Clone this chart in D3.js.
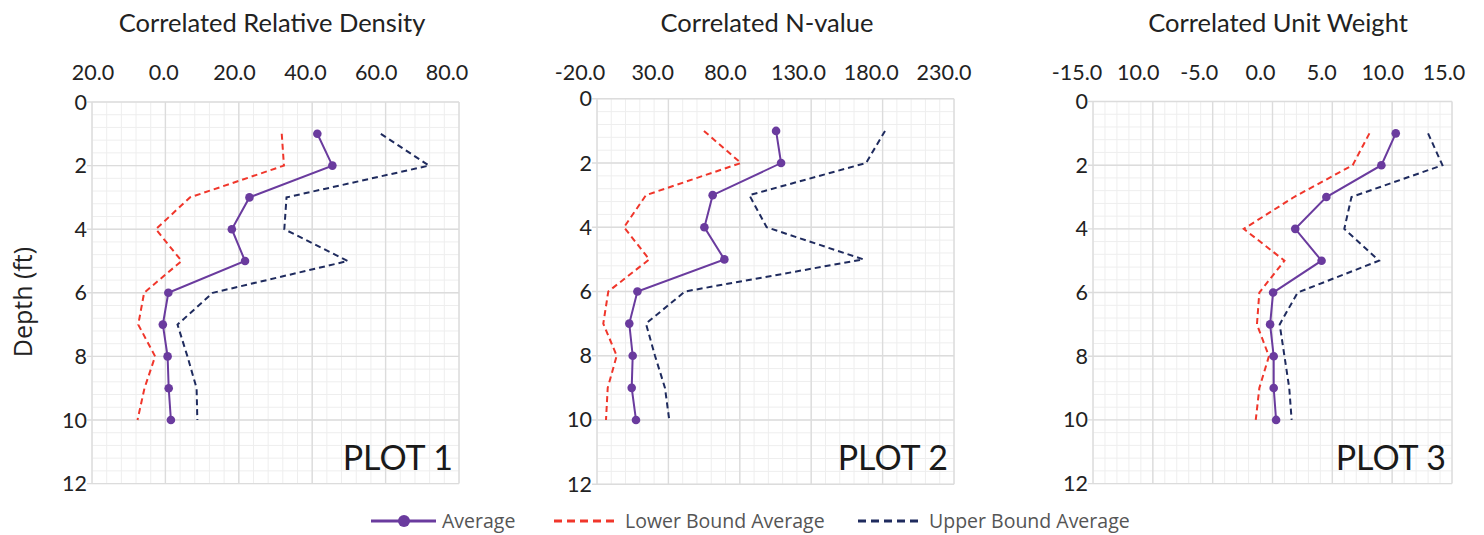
<!DOCTYPE html>
<html>
<head>
<meta charset="utf-8">
<script src="https://cdn.jsdelivr.net/npm/d3@7"></script>
<style>
	body { margin: 0; background: #ffffff; }
	svg { display: block; }
	.text_class_title { font-family: Lato, "Open Sans", sans-serif; font-size: 25.5px; fill: #222222; }
	.text_class_tick { font-family: Lato, "Open Sans", sans-serif; font-size: 21.5px; fill: #222222; }
	.text_class_plot { font-family: Lato, "Open Sans", sans-serif; font-size: 34px; fill: #1a1a1a; }
	.text_class_legend { font-family: "Open Sans", Lato, sans-serif; font-size: 19.5px; fill: #555555; }
	.text_class_axis { font-family: "Open Sans", Lato, sans-serif; font-size: 25px; fill: #222222; }
</style>
</head>
<body>
<div id="div_id_main"></div>
<script>

// ---------------------------------------------------------------
// data

var vDepth = [1, 2, 3, 4, 5, 6, 7, 8, 9, 10];
var vDepthTicks = [0, 2, 4, 6, 8, 10, 12];

var vRelDensity_Avg   = [41.4, 45.5, 22.9, 18.1, 21.7, 0.8, -0.7, 0.6, 0.9, 1.5];
var vRelDensity_Lower = [31.7, 32.3, 6.7, -2.6, 4.4, -5.8, -7.4, -2.8, -5.7, -7.6];
var vRelDensity_Upper = [58.7, 71.8, 33.0, 32.4, 49.7, 12.9, 3.3, 6.0, 8.5, 8.7];

var vNValue_Avg   = [105.4, 108.9, 61.0, 55.2, 69.2, 8.3, 2.6, 5.0, 4.3, 7.3];
var vNValue_Lower = [54.9, 80.8, 14.3, -1.1, 16.6, -12.1, -15.6, -6.2, -12.5, -13.7];
var vNValue_Upper = [181.7, 168.4, 86.7, 98.8, 166.5, 41.6, 14.3, 20.6, 27.6, 30.6];

var vUnitWeight_Avg   = [10.3, 9.1, 4.5, 1.9, 4.1, 0.05, -0.2, 0.1, 0.1, 0.3];
var vUnitWeight_Lower = [8.1, 6.7, 1.8, -2.4, 1.0, -1.1, -1.3, -0.3, -1.1, -1.4];
var vUnitWeight_Upper = [13.0, 14.2, 6.6, 6.0, 8.9, 2.1, 0.6, 1.0, 1.4, 1.6];

var vRelDensity_Ticks = [-20, 0, 20, 40, 60, 80];
var vRelDensity_TickLabels = ["20.0", "0.0", "20.0", "40.0", "60.0", "80.0"];

var vNValue_Ticks = [-20, 30, 80, 130, 180, 230];
var vNValue_TickLabels = ["-20.0", "30.0", "80.0", "130.0", "180.0", "230.0"];

var vUnitWeight_Ticks = [-15, -10, -5, 0, 5, 10, 15];
var vUnitWeight_TickLabels = ["-15.0", "10.0", "-5.0", "0.0", "5.0", "10.0", "15.0"];

var vSeriesNames = ["Average", "Lower Bound Average", "Upper Bound Average"];

// ---------------------------------------------------------------
// layout

var WIDTH = 1484;
var HEIGHT = 535;

var COLOR_AVG = "#6a3b9e";
var COLOR_LOWER = "#f0362b";
var COLOR_UPPER = "#1f2b5e";
var COLOR_GRID_MAJOR = "#dcdcdc";
var COLOR_GRID_MINOR = "#eeeeee";

var vPanels = [
	{ title: "Correlated Relative Density", plot: "PLOT 1", title_x: 272,
	  left: 92, right: 459, top: 102, bottom: 483.6, label_left: 93, label_right: 447,
	  ticks: vRelDensity_Ticks, tick_labels: vRelDensity_TickLabels,
	  avg: vRelDensity_Avg, lower: vRelDensity_Lower, upper: vRelDensity_Upper },
	{ title: "Correlated N-value", plot: "PLOT 2", title_x: 767,
	  left: 597, right: 954, top: 98.8, bottom: 484.2, label_left: 580, label_right: 944,
	  ticks: vNValue_Ticks, tick_labels: vNValue_TickLabels,
	  avg: vNValue_Avg, lower: vNValue_Lower, upper: vNValue_Upper },
	{ title: "Correlated Unit Weight", plot: "PLOT 3", title_x: 1278,
	  left: 1093, right: 1452, top: 101.5, bottom: 483.6, label_left: 1077, label_right: 1444,
	  ticks: vUnitWeight_Ticks, tick_labels: vUnitWeight_TickLabels,
	  avg: vUnitWeight_Avg, lower: vUnitWeight_Lower, upper: vUnitWeight_Upper }
];

// ---------------------------------------------------------------

function funcDraw_Main() {

	let svgMain = d3.select("#div_id_main")
					.append("svg")
						.attr("id", "svg_id_main")
						.attr("width", WIDTH)
						.attr("height", HEIGHT);

	for (let nPanel = 0; nPanel < vPanels.length; nPanel++) {

		funcDraw_Panel(svgMain, vPanels[nPanel]);
	}

	svgMain.append("text")
				.attr("class", "text_class_axis")
				.attr("text-anchor", "middle")
				.attr("transform", "translate(32,302) rotate(-90)")
				.text("Depth (ft)");

	funcDraw_Legend(svgMain);
}

function funcDraw_Panel(svgMain, panel) {

	let fScale_X = d3.scaleLinear()
						.domain([panel.ticks[0], panel.ticks[panel.ticks.length - 1]])
						.range([panel.left, panel.right]);

	let fScale_Label = d3.scaleLinear()
						.domain(fScale_X.domain())
						.range([panel.label_left, panel.label_right]);

	let fScale_Y = d3.scaleLinear()
						.domain([0, 12])
						.range([panel.top, panel.bottom]);

	let gPanel = svgMain.append("g");

	// ---- minor grid

	let nStepX = panel.ticks[1] - panel.ticks[0];
	let vMinorX = d3.range(panel.ticks[0], panel.ticks[panel.ticks.length - 1] + 1e-6, nStepX / 5);
	let vMinorY = d3.range(0, 12 + 1e-6, 0.4);

	gPanel.selectAll("line.line_class_minor_x")
			.data(vMinorX)
			.enter()
			.append("line")
				.attr("class", "line_class_minor_x")
				.attr("x1", d => fScale_X(d)).attr("x2", d => fScale_X(d))
				.attr("y1", panel.top).attr("y2", panel.bottom)
				.attr("stroke", COLOR_GRID_MINOR)
				.attr("stroke-width", 1);

	gPanel.selectAll("line.line_class_minor_y")
			.data(vMinorY)
			.enter()
			.append("line")
				.attr("class", "line_class_minor_y")
				.attr("x1", panel.left).attr("x2", panel.right)
				.attr("y1", d => fScale_Y(d)).attr("y2", d => fScale_Y(d))
				.attr("stroke", COLOR_GRID_MINOR)
				.attr("stroke-width", 1);

	// ---- major grid

	gPanel.selectAll("line.line_class_major_x")
			.data(panel.ticks)
			.enter()
			.append("line")
				.attr("class", "line_class_major_x")
				.attr("x1", d => fScale_X(d)).attr("x2", d => fScale_X(d))
				.attr("y1", panel.top).attr("y2", panel.bottom)
				.attr("stroke", COLOR_GRID_MAJOR)
				.attr("stroke-width", 1.4);

	gPanel.selectAll("line.line_class_major_y")
			.data(vDepthTicks)
			.enter()
			.append("line")
				.attr("class", "line_class_major_y")
				.attr("x1", panel.left - 5).attr("x2", panel.right)
				.attr("y1", d => fScale_Y(d)).attr("y2", d => fScale_Y(d))
				.attr("stroke", COLOR_GRID_MAJOR)
				.attr("stroke-width", 1.4);

	// ---- tick labels

	gPanel.selectAll("text.text_class_tick_x")
			.data(panel.ticks)
			.enter()
			.append("text")
				.attr("class", "text_class_tick text_class_tick_x")
				.attr("text-anchor", "middle")
				.attr("x", d => fScale_Label(d))
				.attr("y", 80)
				.text((d, i) => panel.tick_labels[i]);

	gPanel.selectAll("text.text_class_tick_y")
			.data(vDepthTicks)
			.enter()
			.append("text")
				.attr("class", "text_class_tick text_class_tick_y")
				.attr("text-anchor", "end")
				.attr("x", panel.left - 5)
				.attr("y", d => fScale_Y(d) + 7.5)
				.text(d => d);

	// ---- title and plot name

	gPanel.append("text")
			.attr("class", "text_class_title")
			.attr("text-anchor", "middle")
			.attr("x", panel.title_x)
			.attr("y", 32)
			.text(panel.title);

	gPanel.append("text")
			.attr("class", "text_class_plot")
			.attr("text-anchor", "end")
			.attr("x", panel.right - 6)
			.attr("y", 470)
			.text(panel.plot);

	// ---- series

	let fLine = d3.line()
					.x(d => fScale_X(d[0]))
					.y(d => fScale_Y(d[1]));

	let dsLower = panel.lower.map((v, i) => [v, vDepth[i]]);
	let dsUpper = panel.upper.map((v, i) => [v, vDepth[i]]);
	let dsAvg = panel.avg.map((v, i) => [v, vDepth[i]]);

	gPanel.append("path")
			.attr("d", fLine(dsLower))
			.attr("fill", "none")
			.attr("stroke", COLOR_LOWER)
			.attr("stroke-width", 2)
			.attr("stroke-dasharray", "6,4");

	gPanel.append("path")
			.attr("d", fLine(dsUpper))
			.attr("fill", "none")
			.attr("stroke", COLOR_UPPER)
			.attr("stroke-width", 2)
			.attr("stroke-dasharray", "6,4");

	gPanel.append("path")
			.attr("d", fLine(dsAvg))
			.attr("fill", "none")
			.attr("stroke", COLOR_AVG)
			.attr("stroke-width", 2);

	gPanel.selectAll("circle.circle_class_avg")
			.data(dsAvg)
			.enter()
			.append("circle")
				.attr("class", "circle_class_avg")
				.attr("cx", d => fScale_X(d[0]))
				.attr("cy", d => fScale_Y(d[1]))
				.attr("r", 4.3)
				.attr("fill", COLOR_AVG);
}

function funcDraw_Legend(svgMain) {

	let vColors = [COLOR_AVG, COLOR_LOWER, COLOR_UPPER];
	let vX = [371, 554, 858];
	let nY = 521;

	for (let i = 0; i < vSeriesNames.length; i++) {

		let gItem = svgMain.append("g")
							.attr("transform", "translate(" + vX[i] + "," + nY + ")");

		gItem.append("line")
				.attr("x1", 0).attr("x2", 65)
				.attr("y1", 0).attr("y2", 0)
				.attr("stroke", vColors[i])
				.attr("stroke-width", 3)
				.attr("stroke-dasharray", i == 0 ? null : "8,5");

		if (i == 0)
			gItem.append("circle")
					.attr("cx", 33).attr("cy", 0)
					.attr("r", 6)
					.attr("fill", vColors[i]);

		gItem.append("text")
				.attr("class", "text_class_legend")
				.attr("x", 71)
				.attr("y", 7)
				.text(vSeriesNames[i]);
	}
}

funcDraw_Main();

</script>
</body>
</html>
